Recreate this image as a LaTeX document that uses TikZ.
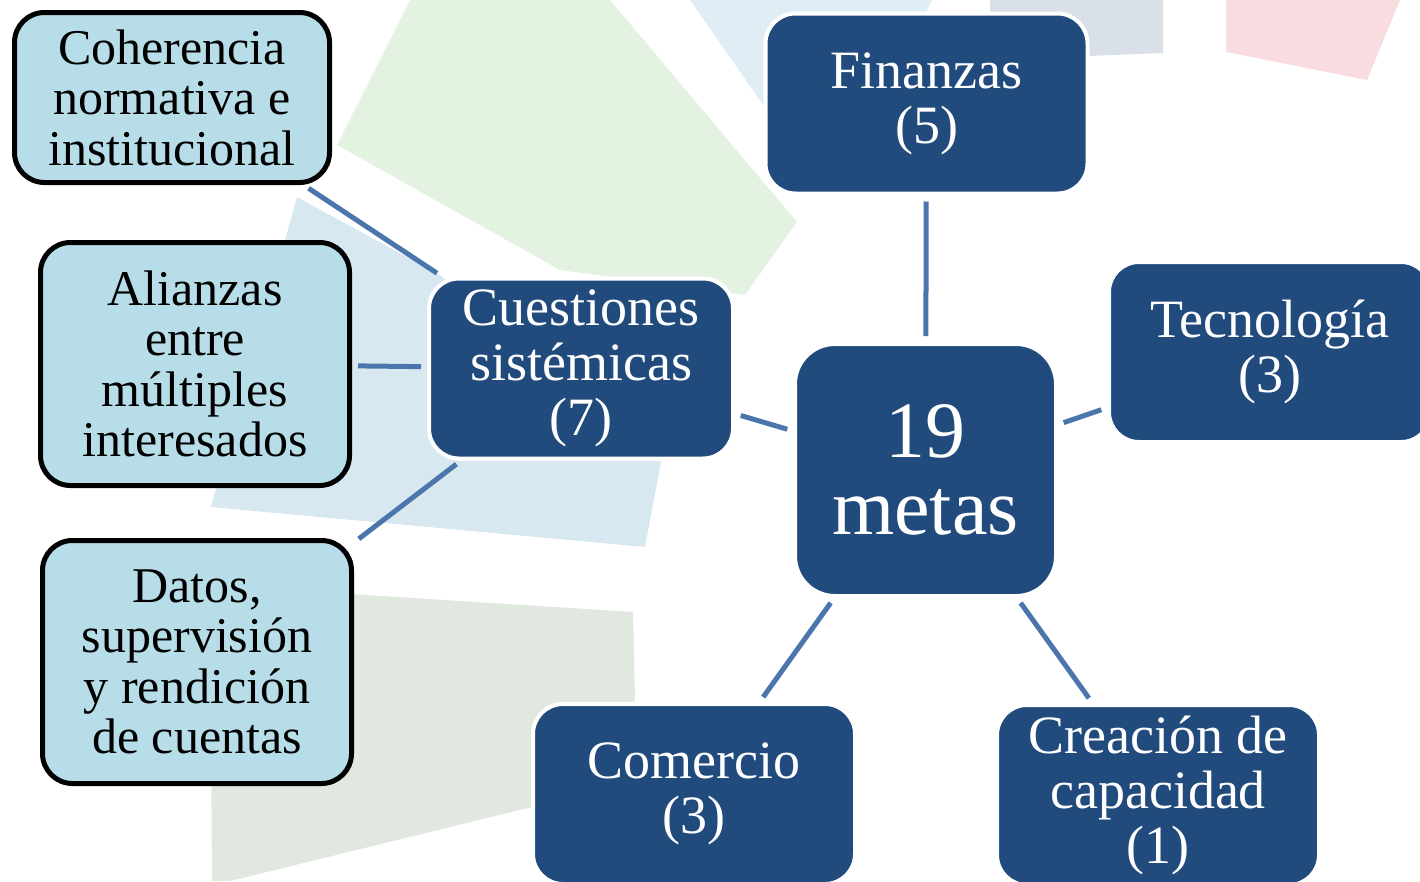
\documentclass[tikz,border=0pt]{standalone}
\usepackage{fontspec}
\setmainfont{Liberation Serif}
\definecolor{goalblue}{RGB}{33,74,125}
\definecolor{areablue}{RGB}{183,222,232}
\definecolor{linkblue}{RGB}{74,118,171}
\definecolor{bggreen}{RGB}{227,242,225}
\definecolor{bgblue}{RGB}{216,232,241}
\definecolor{bggrey}{RGB}{224,232,224}
\definecolor{bgslate}{RGB}{217,224,232}
\definecolor{bgpink}{RGB}{248,220,224}
\tikzset{
  goal/.style     = {rectangle, rounded corners=30pt, fill=goalblue, draw=white,
                     line width=4pt, text=white, align=center,
                     minimum width=322pt, minimum height=180pt,
                     font=\fontsize{54}{55}\selectfont},
  area/.style     = {rectangle, rounded corners=30pt, fill=areablue, draw=black,
                     line width=5pt, text=black, align=center,
                     minimum width=309pt, minimum height=243pt,
                     font=\fontsize{50}{50.5}\selectfont},
  total/.style    = {goal, rounded corners=40pt, minimum width=261pt,
                     minimum height=252pt, font=\fontsize{80}{77}\selectfont},
  link/.style     = {draw=linkblue, line width=5pt, shorten <=6pt, shorten >=6pt},
}
\begin{document}
\begin{tikzpicture}
  [
    x = 1pt,
    y = -1pt
  ]
  \useasboundingbox (0,0) rectangle (1420,881);
  \clip (0,0) rectangle (1420,881);
  % faint wheel pieces behind the chart
  \fill[bggreen] (410,0) -- (610,0) -- (797,222) -- (745,295) -- (560,270) -- (337,145) -- cycle;
  \fill[bgblue] (297,197) -- (440,275) -- (661,462) -- (645,547) -- (211,507) -- cycle;
  \fill[bggrey] (210,585) -- (633,612) -- (635,700) -- (540,805) -- (230,881) -- (212,881) -- cycle;
  \fill[bgblue!80!white] (690,0) -- (932,0) -- (900,70) -- (768,112) -- cycle;
  \fill[bgslate] (990,0) -- (1163,0) -- (1163,53) -- (990,60) -- cycle;
  \fill[bgpink] (1226,0) -- (1400,0) -- (1367,80) -- (1226,52) -- cycle;

  % centre and the five areas
  \node [total] (metas) at (925.5,470) {19\\metas};
  \node [goal] (fin) at (926.5,103.5) {Finanzas\\(5)};
  \node [goal] (tec) at (1270,352) {Tecnología\\(3)};
  \node [goal] (com) at (694,794) {Comercio\\(3)};
  \node [goal] (cre) at (1158,795) {Creación de\\capacidad\\(1)};
  \node [goal, minimum width=304pt] (cue) at (581,368.5) {Cuestiones\\sistémicas\\(7)};

  % systemic issues
  \node [area, minimum height=170pt, minimum width=315pt] (coh) at (172,97.5)
        {Coherencia\\normativa e\\institucional};
  \node [area] (ali) at (195,364) {Alianzas\\entre\\múltiples\\interesados};
  \node [area] (dat) at (197,662) {Datos,\\supervisión\\y rendición\\de cuentas};

  \draw [link] (metas) -- (fin);
  \draw [link] (metas) -- (tec);
  \draw [link] (metas) -- (com);
  \draw [link] (metas) -- (cre);
  \draw [link] (metas) -- (cue);
  \draw [link] (cue) -- (coh);
  \draw [link] (cue) -- (ali);
  \draw [link] (cue) -- (dat);
\end{tikzpicture}
\end{document}
